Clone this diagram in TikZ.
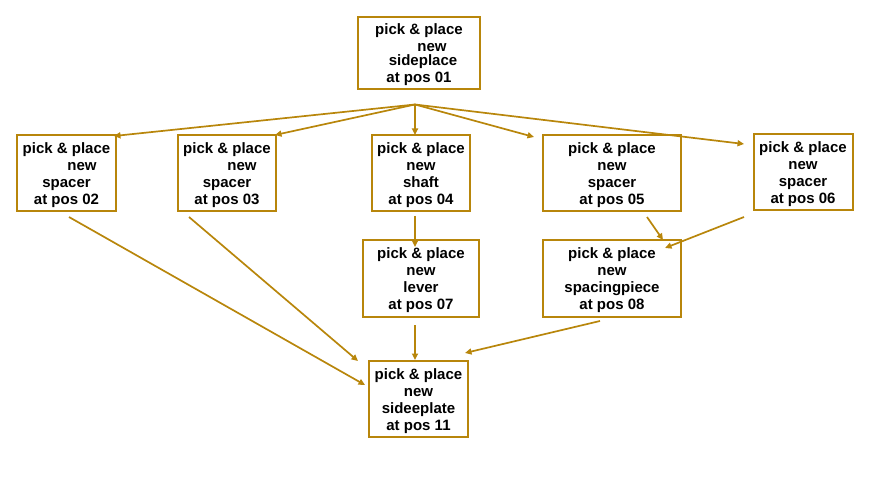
\documentclass[tikz,border=0pt]{standalone}
\usepackage{fontspec}
\setmainfont{Liberation Sans}
\usetikzlibrary{arrows.meta}
\definecolor{gold}{RGB}{184,134,11}
\newcommand{\firstln}{\rule{0pt}{14.5pt}}
\begin{document}
\begin{tikzpicture}[x=1pt,y=-1pt,
  box/.style={draw=gold,line width=2pt,inner sep=0pt,align=center,
    font=\fontsize{15}{17}\selectfont\bfseries},
  conn/.style={draw=gold,line width=1.7pt,-{Triangle[length=6.5pt,width=6pt]}},
  fan/.style={conn}]
\useasboundingbox (0,0) rectangle (877,478);
\node[box,minimum width=122pt,minimum height=72pt] (b01) at (419,53)
  {\firstln pick \& place\\\hspace*{26pt}new\\[-2.5pt]\hspace*{8pt}sideplace\\at pos 01};
\node[box,minimum width=99pt,minimum height=76pt] (b02) at (66.5,173)
  {\firstln pick \& place\\\hspace*{31pt}new\\spacer\\at pos 02};
\node[box,minimum width=98pt,minimum height=76pt] (b03) at (227,173)
  {\firstln pick \& place\\\hspace*{30pt}new\\spacer\\at pos 03};
\node[box,minimum width=98.5pt,minimum height=76pt] (b04) at (421,173)
  {\firstln pick \& place\\new\\shaft\\at pos 04};
\node[box,minimum width=137.5pt,minimum height=76pt] (b05) at (612,173)
  {\firstln pick \& place\\new\\spacer\\at pos 05};
\node[box,minimum width=99pt,minimum height=76pt] (b06) at (803,172)
  {\firstln pick \& place\\new\\spacer\\at pos 06};
\node[box,minimum width=115.5pt,minimum height=77pt] (b07) at (421,278)
  {\firstln pick \& place\\new\\lever\\at pos 07};
\node[box,minimum width=137.5pt,minimum height=77pt] (b08) at (612,278.5)
  {\firstln pick \& place\\new\\spacingpiece\\at pos 08};
\node[box,minimum width=99pt,minimum height=76pt] (b11) at (418.5,399)
  {\firstln pick \& place\\new\\sideeplate\\at pos 11};
% connector points
\coordinate (F) at (415,104.5);
\coordinate (e02) at (114,136);
\coordinate (e03) at (275,135);
\coordinate (e04) at (415,135);
\coordinate (e05) at (534,137);
\coordinate (e06) at (744,144);
\coordinate (s04) at (415,216);
\coordinate (e07) at (415,247);
\coordinate (s07) at (415,325);
\coordinate (e11a) at (415,360);
\coordinate (s05) at (647,217);
\coordinate (e08a) at (663,240);
\coordinate (s06) at (744,217);
\coordinate (e08b) at (665,248);
\coordinate (s08) at (600,321);
\coordinate (e11b) at (465,353);
\coordinate (s02) at (69,217);
\coordinate (e11c) at (365,385);
\coordinate (s03) at (189,217);
\coordinate (e11d) at (358,361);
\draw[fan] (F) -- (e02);
\draw[fan] (F) -- (e03);
\draw[fan] (F) -- (e04);
\draw[fan] (F) -- (e05);
\draw[fan] (F) -- (e06);
\draw[conn] (s04) -- (e07);
\draw[conn] (s07) -- (e11a);
\draw[conn] (s05) -- (e08a);
\draw[conn] (s06) -- (e08b);
\draw[conn] (s08) -- (e11b);
\draw[conn] (s02) -- (e11c);
\draw[conn] (s03) -- (e11d);
\end{tikzpicture}
\end{document}
